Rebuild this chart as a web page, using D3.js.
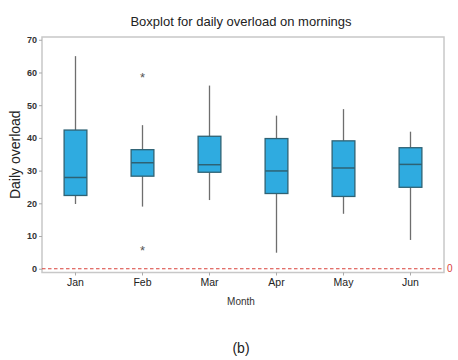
<!DOCTYPE html>
<html>
<head>
<meta charset="utf-8">
<script src="https://cdn.jsdelivr.net/npm/d3@7"></script>
<style>
  html, body { margin: 0; padding: 0; background: #fff; }
  svg { display: block; font-family: Arial, "Liberation Sans", sans-serif; }
</style>
</head>
<body>
<svg id="chart" width="458" height="360"></svg>
<script>
// Monthly morning overload summaries (five-number summary per month)
const months = ["Jan", "Feb", "Mar", "Apr", "May", "Jun"];
const whiskerLow  = [19.8, 19.0, 21.0, 4.9, 16.8, 8.8];
const q1          = [22.4, 28.3, 29.5, 23.0, 22.1, 24.9];
const median      = [27.9, 32.4, 31.8, 29.9, 30.8, 31.9];
const q3          = [42.4, 36.4, 40.5, 39.8, 39.1, 37.0];
const whiskerHigh = [65.0, 43.9, 56.0, 46.8, 48.8, 41.9];
// Outliers as [month, value]
const outlierMonths = ["Feb", "Feb"];
const outlierValues = [58.8, 5.8];
const yTicks = [0, 10, 20, 30, 40, 50, 60, 70];
const referenceValue = 0;

const svg = d3.select("#chart");
const plot = { left: 42, right: 444, top: 37, bottom: 272.5 };

const x = d3.scaleBand().domain(months).range([plot.left, plot.right]).paddingInner(0.66).paddingOuter(0.33);
const y = d3.scaleLinear().domain([-1.15, 70.85]).range([plot.bottom, plot.top]);

// Title
svg.append("text")
  .attr("x", 241).attr("y", 26)
  .attr("text-anchor", "middle")
  .attr("font-size", 13).attr("fill", "#222")
  .text("Boxplot for daily overload on mornings");

// Plot frame
svg.append("rect")
  .attr("x", plot.left).attr("y", plot.top)
  .attr("width", plot.right - plot.left).attr("height", plot.bottom - plot.top)
  .attr("fill", "none").attr("stroke", "#c8c8c8").attr("stroke-width", 1.5);

// Y axis
const yAxis = svg.append("g")
  .attr("transform", `translate(${plot.left},0)`)
  .call(d3.axisLeft(y).tickValues(yTicks).tickSize(3).tickPadding(2));
yAxis.select(".domain").remove();
yAxis.selectAll(".tick line").attr("stroke", "#aaa");
yAxis.selectAll(".tick text")
  .attr("font-size", 9).attr("font-weight", "bold").attr("fill", "#333")
  .attr("font-family", "Arial, 'Liberation Sans', sans-serif");

// X axis
const xAxis = svg.append("g")
  .attr("transform", `translate(0,${plot.bottom})`)
  .call(d3.axisBottom(x).tickSize(3).tickPadding(3));
xAxis.select(".domain").remove();
xAxis.selectAll(".tick line").attr("stroke", "#aaa");
xAxis.selectAll(".tick text")
  .attr("font-size", 10.5).attr("fill", "#222")
  .attr("font-family", "Arial, 'Liberation Sans', sans-serif");

// Axis titles
svg.append("text")
  .attr("transform", `translate(20,${(plot.top + plot.bottom) / 2}) rotate(-90)`)
  .attr("text-anchor", "middle")
  .attr("font-size", 14).attr("fill", "#222")
  .text("Daily overload");
svg.append("text")
  .attr("x", 241).attr("y", 305)
  .attr("text-anchor", "middle")
  .attr("font-size", 10).attr("fill", "#333")
  .text("Month");

// Reference line at zero
svg.append("line")
  .attr("x1", plot.left).attr("x2", plot.right)
  .attr("y1", y(referenceValue)).attr("y2", y(referenceValue))
  .attr("stroke", "#d9413b").attr("stroke-width", 1.1).attr("stroke-dasharray", "3.5,2.5");
svg.append("text")
  .attr("x", plot.right + 3).attr("y", y(referenceValue) + 3.5)
  .attr("font-size", 10).attr("fill", "#d9413b")
  .text(referenceValue);

// Boxes
const boxes = months.map((m, i) => ({
  m, lo: whiskerLow[i], q1: q1[i], med: median[i], q3: q3[i], hi: whiskerHigh[i]
}));
const g = svg.append("g").selectAll("g").data(boxes).join("g");
const cx = d => x(d.m) + x.bandwidth() / 2;

g.append("line")
  .attr("x1", cx).attr("x2", cx)
  .attr("y1", d => y(d.q3)).attr("y2", d => y(d.hi))
  .attr("stroke", "#6e6e6e").attr("stroke-width", 1.3);
g.append("line")
  .attr("x1", cx).attr("x2", cx)
  .attr("y1", d => y(d.q1)).attr("y2", d => y(d.lo))
  .attr("stroke", "#6e6e6e").attr("stroke-width", 1.3);
g.append("rect")
  .attr("x", d => x(d.m)).attr("width", x.bandwidth())
  .attr("y", d => y(d.q3)).attr("height", d => y(d.q1) - y(d.q3))
  .attr("fill", "#2fabe0").attr("stroke", "#2e6274").attr("stroke-width", 1.3);
g.append("line")
  .attr("x1", d => x(d.m)).attr("x2", d => x(d.m) + x.bandwidth())
  .attr("y1", d => y(d.med)).attr("y2", d => y(d.med))
  .attr("stroke", "#2e6274").attr("stroke-width", 1.5);

// Outliers
svg.append("g").selectAll("text")
  .data(outlierValues.map((v, i) => ({ m: outlierMonths[i], v })))
  .join("text")
  .attr("x", d => x(d.m) + x.bandwidth() / 2)
  .attr("y", d => y(d.v) + 5.5)
  .attr("text-anchor", "middle")
  .attr("font-size", 13).attr("fill", "#555")
  .text("*");

// Panel label
svg.append("text")
  .attr("x", 241).attr("y", 353)
  .attr("text-anchor", "middle")
  .attr("font-size", 14).attr("fill", "#222")
  .text("(b)");
</script>
</body>
</html>
